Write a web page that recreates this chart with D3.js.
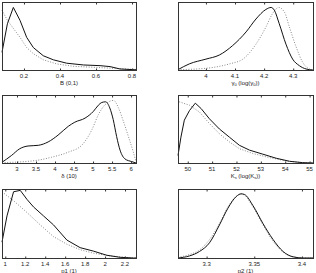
<!DOCTYPE html>
<html>
<head>
<meta charset="utf-8">
<script src="https://cdn.jsdelivr.net/npm/d3@7"></script>
<style>
  body { margin: 0; background: #fff; }
  text { font-family: "Liberation Sans", Arial, sans-serif; fill: #222; }
</style>
</head>
<body>
<svg id="fig" width="316" height="273"></svg>
<script>
// x grids and densities (relative height)
let bX = [0.078, 0.108, 0.141, 0.178, 0.215, 0.252, 0.307, 0.363, 0.437, 0.53, 0.622, 0.678, 0.733, 0.806, 0.822];
let bPost = [0.26, 0.68, 0.92, 0.73, 0.48, 0.33, 0.21, 0.15, 0.10, 0.074, 0.064, 0.05, 0.015, 0.005, 0.003];
let bPriorX = [0.078, 0.108, 0.178, 0.215, 0.252, 0.307, 0.381, 0.474, 0.585, 0.696, 0.806, 0.822];
let bPrior = [0.88, 0.73, 0.48, 0.33, 0.24, 0.15, 0.09, 0.054, 0.04, 0.025, 0.01, 0.008];

let gX = [3.904, 3.943, 4.0, 4.046, 4.092, 4.138, 4.172, 4.206, 4.224, 4.235, 4.252, 4.275, 4.298, 4.321, 4.344, 4.367];
let gPost = [0.005, 0.09, 0.16, 0.22, 0.36, 0.56, 0.75, 0.89, 0.92, 0.88, 0.68, 0.38, 0.16, 0.064, 0.015, 0];
let gPriorX = [3.904, 4.0, 4.081, 4.127, 4.172, 4.206, 4.229, 4.25, 4.27, 4.287, 4.31, 4.333, 4.356, 4.367];
let gPrior = [0.005, 0.025, 0.09, 0.16, 0.38, 0.63, 0.83, 0.92, 0.85, 0.63, 0.34, 0.11, 0.015, 0.005];

let dX = [2.605, 2.853, 3.073, 3.29, 3.56, 3.82, 4.08, 4.35, 4.52, 4.79, 5.01, 5.14, 5.23, 5.33, 5.44, 5.53, 5.62, 5.71, 5.84, 6.02, 6.13];
let dPost = [0.01, 0.11, 0.21, 0.25, 0.26, 0.31, 0.41, 0.54, 0.6, 0.66, 0.76, 0.85, 0.89, 0.9, 0.81, 0.64, 0.39, 0.19, 0.06, 0.02, 0];
let dPriorX = [2.605, 3.47, 3.91, 4.35, 4.7, 4.97, 5.14, 5.32, 5.54, 5.67, 5.8, 5.93, 6.06, 6.13];
let dPrior = [0.005, 0.035, 0.085, 0.16, 0.26, 0.49, 0.71, 0.86, 0.92, 0.81, 0.61, 0.39, 0.16, 0.02];

let kX = [49.6, 49.72, 49.86, 50.07, 50.31, 50.55, 50.89, 51.3, 51.71, 52.12, 52.53, 53.08, 53.63, 54.18, 54.72, 55.14];
let kPost = [0.11, 0.38, 0.63, 0.77, 0.88, 0.8, 0.65, 0.5, 0.38, 0.26, 0.19, 0.13, 0.07, 0.025, 0.005, 0];
let kPriorX = [49.65, 50.07, 50.48, 50.89, 51.3, 51.71, 52.12, 52.67, 53.35, 54.04, 54.72, 55.14];
let kPrior = [0.9, 0.85, 0.75, 0.58, 0.43, 0.31, 0.21, 0.14, 0.08, 0.03, 0.005, 0];

let p1X = [0.967, 1.017, 1.083, 1.15, 1.217, 1.283, 1.383, 1.483, 1.617, 1.75, 1.883, 2.017, 2.15, 2.283, 2.31];
let p1Post = [0.23, 0.61, 0.96, 0.98, 0.85, 0.74, 0.61, 0.48, 0.26, 0.15, 0.1, 0.04, 0.01, 0, 0];
let p1PriorX = [0.967, 1.083, 1.217, 1.35, 1.483, 1.617, 1.75, 1.883, 2.05, 2.283, 2.31];
let p1Prior = [0.96, 0.83, 0.66, 0.48, 0.31, 0.2, 0.12, 0.07, 0.03, 0, 0];

let p2X = [3.27, 3.282, 3.2925, 3.303, 3.3135, 3.3223, 3.331, 3.3363, 3.3398, 3.3486, 3.3591, 3.3696, 3.3802, 3.3907, 3.4012, 3.4116];
let p2Post = [0, 0.03, 0.094, 0.22, 0.48, 0.72, 0.89, 0.93, 0.92, 0.76, 0.5, 0.27, 0.094, 0.017, 0, 0];
let p2Prior = [0.01, 0.05, 0.116, 0.266, 0.5, 0.74, 0.89, 0.93, 0.91, 0.74, 0.48, 0.245, 0.086, 0.017, 0, 0];

let xDomains = [[0.078, 0.822], [3.904, 4.368], [2.605, 6.13], [49.6, 55.14], [0.967, 2.31], [3.27, 3.4116]];
let xTicks = [[0.2, 0.4, 0.6, 0.8], [4, 4.1, 4.2, 4.3], [3, 3.5, 4, 4.5, 5, 5.5, 6], [50, 51, 52, 53, 54, 55], [1, 1.2, 1.4, 1.6, 1.8, 2, 2.2], [3.3, 3.35, 3.4]];
let xLabels = [['B (0,1)'], ['γ', '0', ' (log(γ', '0', '))'], ['δ (10)'], ['K', 's', ' (log(K', 's', '))'], ['p1 (1)'], ['p2 (1)']];

let panels = [
  { post: [bX, bPost], prior: [bPriorX, bPrior], sharp: true },
  { post: [gX, gPost], prior: [gPriorX, gPrior], sharp: false },
  { post: [dX, dPost], prior: [dPriorX, dPrior], sharp: false },
  { post: [kX, kPost], prior: [kPriorX, kPrior], sharp: true },
  { post: [p1X, p1Post], prior: [p1PriorX, p1Prior], sharp: true },
  { post: [p2X, p2Post], prior: [p2X, p2Prior], sharp: false }
];

let cols = [[2, 136], [178, 313]];
let rows = [[2, 70], [95, 163], [189, 258]];

let svg = d3.select('#fig');

panels.forEach(function(p, i) {
  let c = cols[i % 2], r = rows[Math.floor(i / 2)];
  let x = d3.scaleLinear().domain(xDomains[i]).range([c[0], c[1]]);
  let y = d3.scaleLinear().domain([0, 1]).range([r[1], r[0]]);
  let g = svg.append('g');

  let line = d3.line().x(d => x(d[0])).y(d => y(d[1]))
    .curve(p.sharp ? d3.curveLinear : d3.curveMonotoneX);
  let zip = a => a[0].map((v, k) => [v, a[1][k]]);

  g.append('path').attr('d', line(zip(p.prior)))
    .attr('fill', 'none').attr('stroke', '#8a8a8a').attr('stroke-width', 1)
    .attr('stroke-dasharray', '1,1.6');
  g.append('path').attr('d', line(zip(p.post)))
    .attr('fill', 'none').attr('stroke', '#111').attr('stroke-width', 1);

  // box
  g.append('rect').attr('x', c[0] + 0.5).attr('y', r[0] + 0.5)
    .attr('width', c[1] - c[0]).attr('height', r[1] - r[0])
    .attr('fill', 'none').attr('stroke', '#333').attr('stroke-width', 1);

  // inward ticks top and bottom
  let bottom = g.append('g').attr('transform', `translate(0,${r[1] + 0.5})`)
    .call(d3.axisTop(x).tickValues(xTicks[i]).tickSize(2).tickFormat(''));
  bottom.select('.domain').remove();
  let top = g.append('g').attr('transform', `translate(0,${r[0] + 0.5})`)
    .call(d3.axisBottom(x).tickValues(xTicks[i]).tickSize(2).tickFormat(''));
  top.select('.domain').remove();
  g.selectAll('.tick line').attr('stroke', '#333');

  g.selectAll('text.tl').data(xTicks[i]).enter().append('text').attr('class', 'tl')
    .attr('x', d => x(d)).attr('y', r[1] + 8)
    .attr('text-anchor', 'middle').attr('font-size', 6)
    .text(d => d3.format('')(d));

  let lab = g.append('text').attr('x', (c[0] + c[1]) / 2).attr('y', r[1] + 14.5)
    .attr('text-anchor', 'middle').attr('font-size', 6);
  xLabels[i].forEach(function(s, k) {
    let ts = lab.append('tspan').text(s);
    if (k % 2 === 1) ts.attr('font-size', 4).attr('dy', 1.5);
    else if (k > 0) ts.attr('dy', -1.5);
  });
});
</script>
</body>
</html>
